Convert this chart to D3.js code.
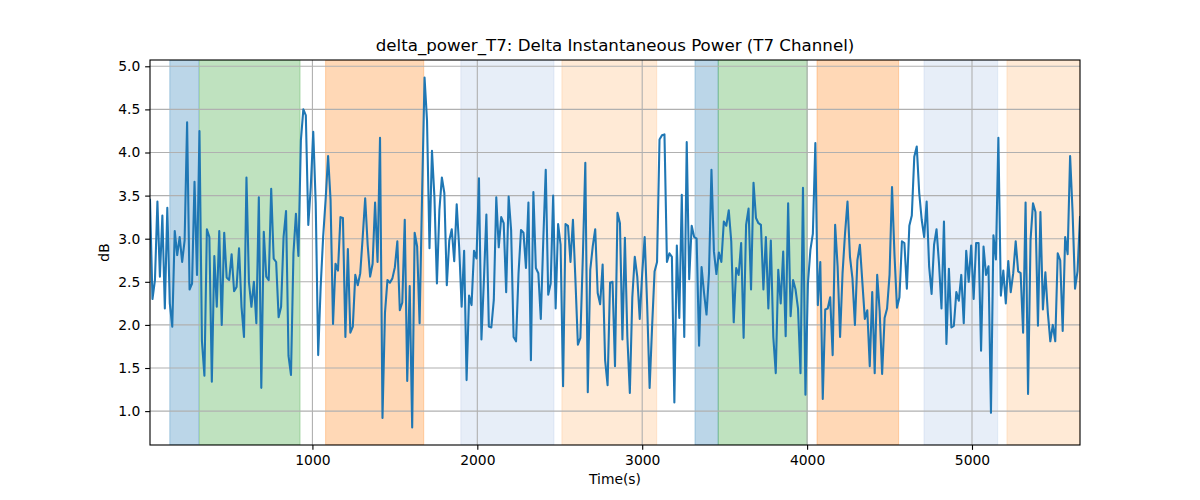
<!DOCTYPE html>
<html>
<head>
<meta charset="utf-8">
<script src="https://cdn.jsdelivr.net/npm/d3@7"></script>
<style>
  body { margin: 0; background: #fff; }
  svg text { font-family: "DejaVu Sans", sans-serif; fill: #000; }
</style>
</head>
<body>
<script>
// delta power in dB, one sample every 15 s
let power = [
  3.45, 2.3, 2.52, 3.43, 2.56, 3.27, 2.19, 3.36, 2.25, 1.98,
  3.09, 2.81, 3.02, 2.73, 2.98, 4.35, 2.41, 2.48, 3.66, 2.58,
  4.25, 1.81, 1.41, 3.11, 3.02, 1.34, 2.8, 2.21, 3.09, 2.0,
  3.07, 2.55, 2.52, 2.82, 2.39, 2.44, 2.89, 2.21, 1.86, 3.71,
  2.5, 2.21, 2.5, 2.02, 3.48, 1.27, 3.08, 2.56, 2.52, 3.58,
  2.77, 2.73, 2.09, 2.21, 3.02, 3.32, 1.64, 1.42, 2.83, 3.29,
  2.8, 4.14, 4.5, 4.43,
  3.16, 3.6, 4.24, 3.41, 1.65, 2.44, 3.02, 3.45, 3.96, 3.45,
  2.01, 2.71, 2.63, 3.25, 3.24, 1.86, 2.88, 1.91, 1.98, 2.58,
  2.46, 2.6, 3.02, 3.47, 2.93, 2.56, 2.71, 3.42, 2.73, 4.17,
  0.92, 2.14, 2.52, 2.49, 2.54, 2.67, 2.97, 2.17, 2.26, 3.22,
  1.35, 2.45, 0.81, 3.07, 2.91, 2.02, 3.5, 4.87, 4.37, 2.89,
  4.02, 3.48, 2.48, 3.33, 3.71, 3.53, 2.46, 2.98, 3.11, 2.74,
  3.40, 2.9,
  2.21, 2.86, 1.36, 2.34, 2.23, 2.86, 2.77, 3.70, 1.83, 2.52,
  3.28, 1.98, 1.97, 2.29, 3.48, 2.9, 3.25, 3.18, 2.38, 3.49,
  3.1, 1.86, 1.81, 2.6, 3.1, 3.07, 2.66, 3.42, 1.59, 3.54,
  2.66, 2.6, 2.07, 2.98, 3.80, 2.35, 2.48, 3.5, 2.19, 3.17,
  2.93, 1.29, 3.17, 3.15, 2.73, 3.22, 2.52, 1.77, 1.85, 2.79,
  3.88, 1.22, 2.64, 2.91, 3.11, 2.37, 2.24, 2.70, 1.59, 1.30,
  2.49, 2.50, 1.52,
  3.3, 3.18, 1.83, 3.01, 1.86, 1.21, 2.32, 2.79, 2.56, 2.07,
  2.6, 3.02, 2.23, 1.27, 1.98, 2.62, 2.73, 4.15, 4.2, 4.21,
  2.73, 2.83, 2.79, 1.1, 2.92, 2.08, 3.51, 1.86, 4.12, 2.53,
  3.15, 3.02, 3.0, 1.76, 2.67, 2.37, 2.12, 2.6, 3.8, 2.85,
  2.59, 2.84, 2.73, 3.2, 3.15, 3.33, 2.97, 2.03, 2.66, 2.58,
  2.95, 1.85, 3.16, 3.35, 2.41, 3.65, 3.24, 3.18, 3.16, 2.41,
  3.02, 2.19,
  2.98, 1.86, 1.44, 2.64, 2.25, 2.85, 1.87, 3.41, 2.1, 2.52,
  2.41, 2.19, 1.44, 3.59, 1.19, 2.48, 2.87, 3.06, 4.11, 2.23,
  2.73, 1.14, 2.18, 2.19, 2.32, 1.65, 3.16, 2.68, 1.86, 2.6,
  3.06, 3.43, 2.79, 2.54, 2.0, 2.75, 2.93, 2.5, 2.07, 2.17,
  1.52, 2.38, 1.44, 2.58, 2.16, 1.43, 2.08, 2.19, 2.58, 3.6,
  2.81, 2.2, 2.32, 2.97, 2.95, 2.42, 3.15, 3.27, 3.95, 4.07,
  3.53, 3.22, 3.02,
  3.43, 2.68, 2.36, 2.93, 3.11, 2.71, 2.19, 3.2, 1.78, 2.65,
  1.97, 1.99, 2.38, 2.28, 2.58, 2.02, 2.86, 2.5, 2.92, 2.3,
  2.95, 2.95, 1.7, 2.91, 2.58, 2.68, 0.98, 3.04, 2.76, 4.17,
  2.34, 2.63, 2.25, 2.74, 2.38, 2.6, 2.97, 2.62, 2.6, 1.91,
  3.42, 1.2, 2.98, 3.41, 3.31, 1.99, 3.31, 2.18, 2.61, 2.14,
  1.81, 2.0, 1.81, 2.83, 2.75, 1.93, 3.02, 2.82, 3.96, 3.31,
  2.42, 2.62, 3.25
];
let sampleStep = 15;
let times = power.map((v, i) => (i + 1) * sampleStep);

// shaded stages
let spanStart = [135, 315, 1080, 1900, 2513, 3320, 3461, 4060, 4709, 5212];
let spanEnd   = [310, 925, 1675, 2465, 3088, 3461, 4001, 4555, 5156, 5655];
let spanKind  = ["a", "b", "c", "d", "e", "a", "b", "c", "d", "e"];

let xTicks = [1000, 2000, 3000, 4000, 5000];
let yTicks = [1.0, 1.5, 2.0, 2.5, 3.0, 3.5, 4.0, 4.5, 5.0];

let kindColor = {a: "#1f77b4", b: "#2ca02c", c: "#ff7f0e", d: "#aec7e8", e: "#ffbb78"};

let width = 1200, height = 500;
let margin = {top: 60, right: 120, bottom: 55, left: 150};
let pt = 100 / 72;

let svg = d3.select("body").append("svg")
  .attr("width", width)
  .attr("height", height);

let x = d3.scaleLinear()
  .domain(d3.extent(times))
  .range([margin.left, width - margin.right]);

let yMin = d3.min(power), yMax = d3.max(power);
let pad = (yMax - yMin) * 0.05;
let y = d3.scaleLinear()
  .domain([yMin - pad, yMax + pad])
  .range([height - margin.bottom, margin.top]);

let clip = svg.append("defs").append("clipPath").attr("id", "plot")
  .append("rect")
  .attr("x", margin.left).attr("y", margin.top)
  .attr("width", width - margin.left - margin.right)
  .attr("height", height - margin.top - margin.bottom);

let plot = svg.append("g").attr("clip-path", "url(#plot)");

// spans
plot.selectAll(".span")
  .data(spanStart.map((s, i) => ({s: s, e: spanEnd[i], k: spanKind[i]})))
  .enter().append("rect")
  .attr("class", "span")
  .attr("x", d => x(d.s))
  .attr("width", d => x(d.e) - x(d.s))
  .attr("y", margin.top)
  .attr("height", height - margin.top - margin.bottom)
  .attr("fill", d => kindColor[d.k])
  .attr("fill-opacity", 0.3)
  .attr("stroke", d => kindColor[d.k])
  .attr("stroke-opacity", 0.3)
  .attr("stroke-width", 1);

// grid
plot.selectAll(".gx")
  .data(xTicks)
  .enter().append("line")
  .attr("x1", d => x(d)).attr("x2", d => x(d))
  .attr("y1", margin.top).attr("y2", height - margin.bottom)
  .attr("stroke", "#b0b0b0").attr("stroke-width", 0.8 * pt);

plot.selectAll(".gy")
  .data(yTicks)
  .enter().append("line")
  .attr("x1", margin.left).attr("x2", width - margin.right)
  .attr("y1", d => y(d)).attr("y2", d => y(d))
  .attr("stroke", "#b0b0b0").attr("stroke-width", 0.8 * pt);

// the trace
let line = d3.line()
  .x((d, i) => x(times[i]))
  .y(d => y(d));

plot.append("path")
  .datum(power)
  .attr("fill", "none")
  .attr("stroke", "#1f77b4")
  .attr("stroke-width", 1.5 * pt)
  .attr("stroke-linejoin", "round")
  .attr("stroke-linecap", "square")
  .attr("d", line);

// axes
let xAxis = svg.append("g")
  .attr("transform", `translate(0,${height - margin.bottom})`)
  .call(d3.axisBottom(x).tickValues(xTicks).tickFormat(d3.format("d"))
    .tickSize(3.5 * pt).tickPadding(3.5 * pt));

let yAxis = svg.append("g")
  .attr("transform", `translate(${margin.left},0)`)
  .call(d3.axisLeft(y).tickValues(yTicks).tickFormat(d3.format(".1f"))
    .tickSize(3.5 * pt).tickPadding(3.5 * pt));

[xAxis, yAxis].forEach(a => {
  a.select(".domain").remove();
  a.selectAll(".tick line").attr("stroke", "#000").attr("stroke-width", 0.8 * pt);
  a.selectAll(".tick text")
    .style("font-family", "DejaVu Sans, sans-serif")
    .style("font-size", (10 * pt) + "px");
});

// frame
svg.append("rect")
  .attr("x", margin.left).attr("y", margin.top)
  .attr("width", width - margin.left - margin.right)
  .attr("height", height - margin.top - margin.bottom)
  .attr("fill", "none")
  .attr("stroke", "#000")
  .attr("stroke-width", 0.8 * pt);

// labels
svg.append("text")
  .attr("x", (margin.left + width - margin.right) / 2)
  .attr("y", margin.top - 6 * pt - 0.5)
  .attr("text-anchor", "middle")
  .style("font-size", (12 * pt) + "px")
  .text("delta_power_T7: Delta Instantaneous Power (T7 Channel)");

svg.append("text")
  .attr("x", (margin.left + width - margin.right) / 2)
  .attr("y", 484)
  .attr("text-anchor", "middle")
  .style("font-size", (10 * pt) + "px")
  .text("Time(s)");

svg.append("text")
  .attr("transform", `translate(109,${(margin.top + height - margin.bottom) / 2}) rotate(-90)`)
  .attr("text-anchor", "middle")
  .style("font-size", (10 * pt) + "px")
  .text("dB");
</script>
</body>
</html>
